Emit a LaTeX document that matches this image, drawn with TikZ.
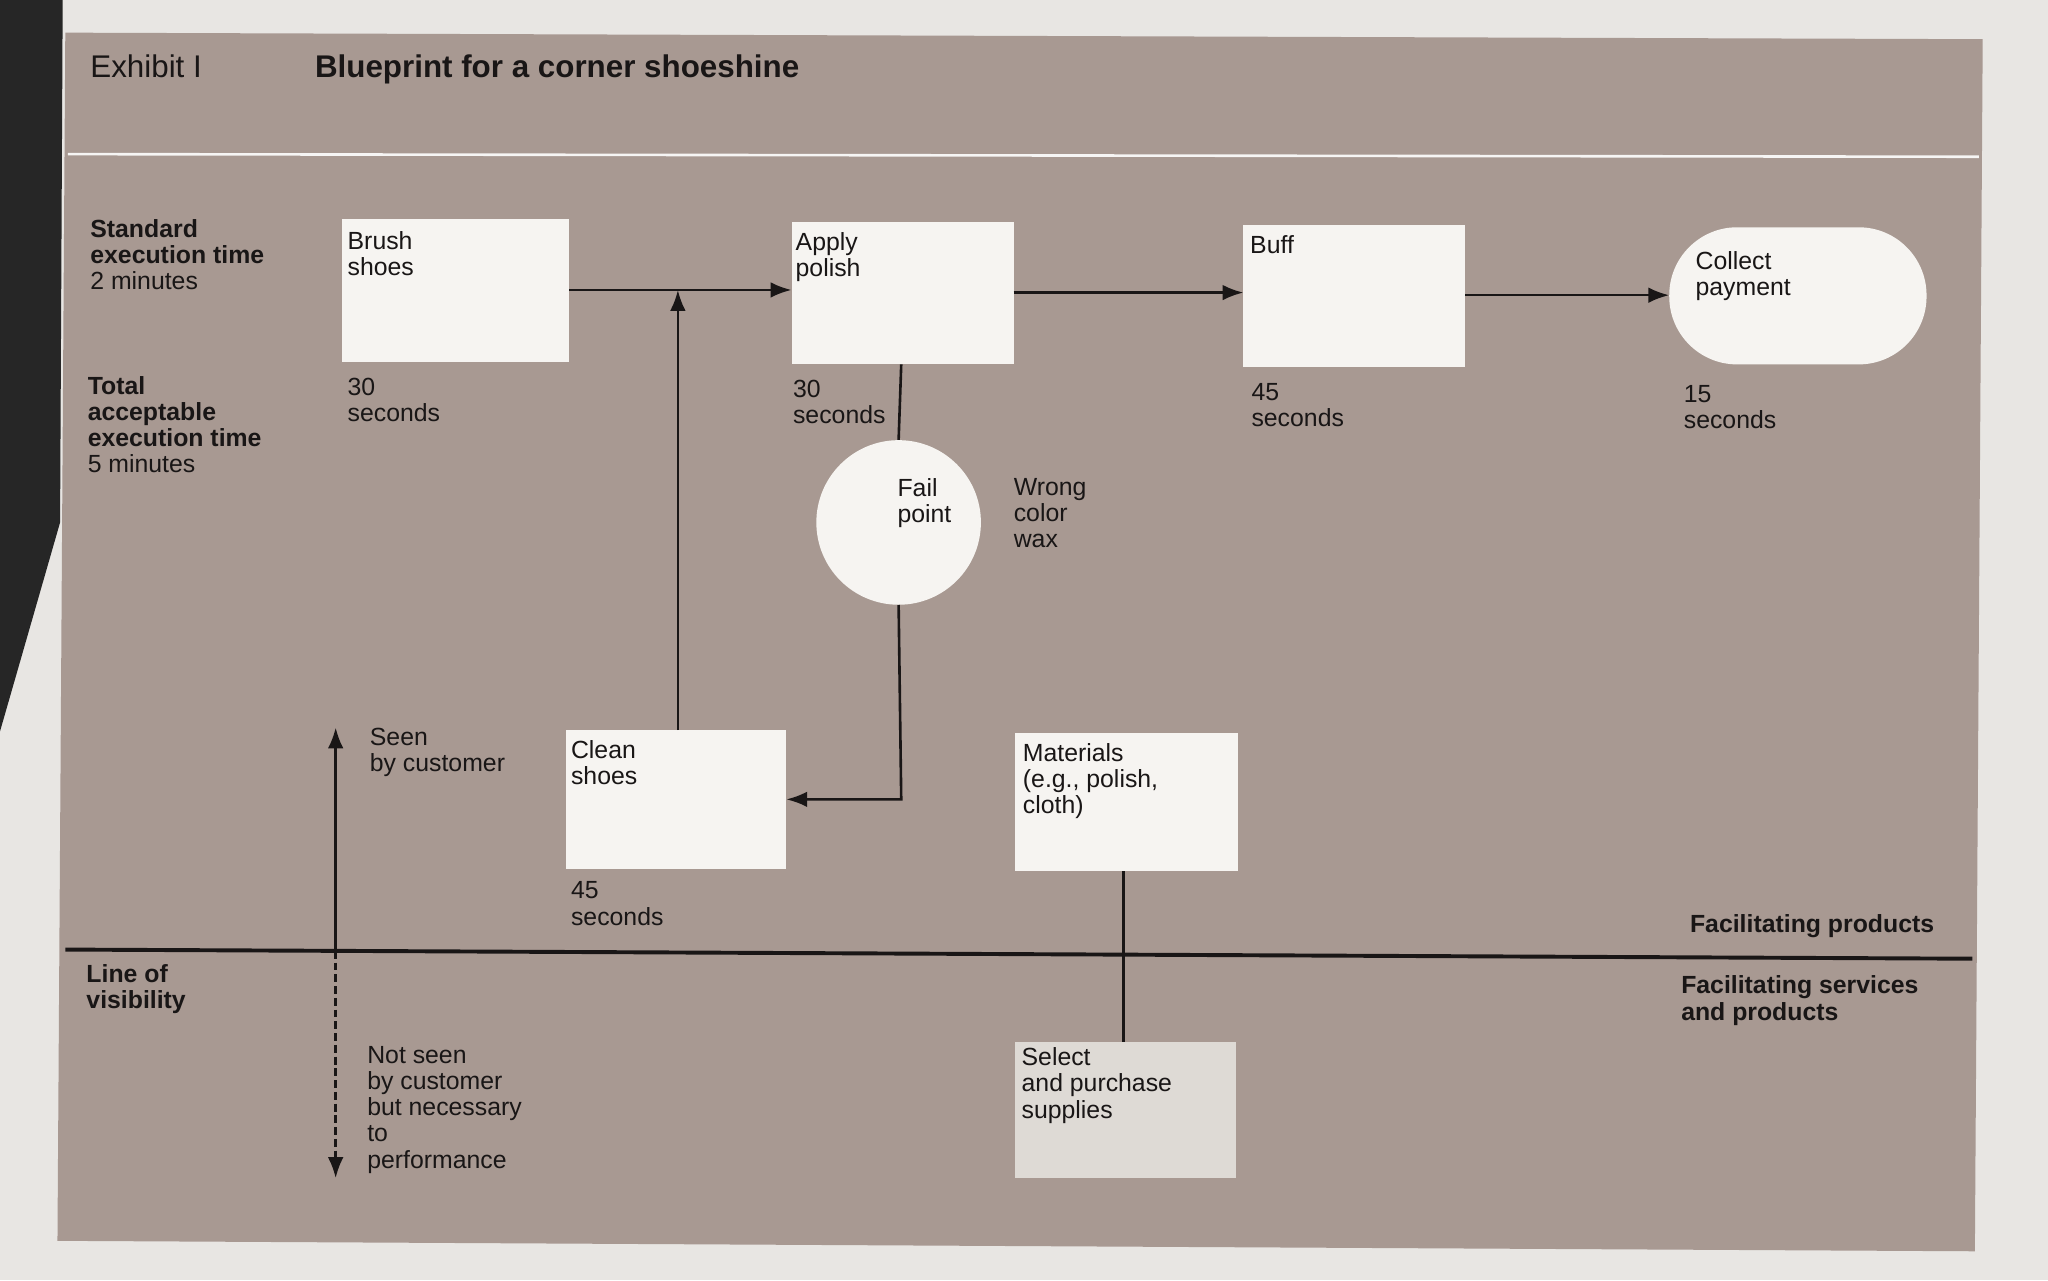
\documentclass[tikz,border=0pt]{standalone}
\usepackage{fontspec}
\setmainfont{Liberation Sans}
\usetikzlibrary{arrows.meta}
\definecolor{outer}{RGB}{232,230,227}
\definecolor{panel}{RGB}{168,153,146}
\definecolor{boxw}{RGB}{246,244,241}
\definecolor{boxg}{RGB}{222,218,213}
\definecolor{ink}{RGB}{25,22,22}
\tikzset{
 txt/.style={anchor=north west,inner sep=0pt,align=left,font=\fontsize{19}{20}\selectfont,text=ink},
 btxt/.style={txt,font=\fontsize{19}{20}\selectfont\bfseries},
 procbox/.style={fill=boxw,draw=none},
 flow/.style={draw=ink,line width=2pt,-{Latex[length=16pt,width=12pt]}},
 plain/.style={draw=ink,line width=2pt},
}
\begin{document}
\begin{tikzpicture}[x=1pt,y=-1pt]
\useasboundingbox (0,0) rectangle (1568,980);
\fill[outer] (0,0) rectangle (1568,980);
\fill[black!85] (0,0) -- (48,0) -- (46,400) -- (0,560) -- cycle;
\fill[panel] (50,25) -- (1518,30) -- (1512,958) -- (44,950) -- cycle;
\draw[white!90!panel,line width=2pt] (52,118) -- (1515,120);
% header
\node[txt,font=\fontsize{24}{26}\selectfont] (ex) at (69,42) {Exhibit I};
\node[btxt,font=\fontsize{24}{26}\selectfont\bfseries] (ttl) at (241,42) {Blueprint for a corner shoeshine};
% left labels
\node[txt] (std) at (69,168) {\textbf{Standard}\\\textbf{execution time}\\2 minutes};
\node[txt] (tot) at (67,288) {\textbf{Total}\\\textbf{acceptable}\\\textbf{execution time}\\5 minutes};
% boxes
\path[procbox] (262,168) rectangle (436,277);
\node[txt] (brush) at (266,177) {Brush\\shoes};
\coordinate (brushE) at (436,222);
\path[procbox] (606,170) rectangle (776,279);
\node[txt] (apply) at (609,178) {Apply\\polish};
\coordinate (applyW) at (606,222);
\coordinate (applyE) at (776,224);
\coordinate (applyS) at (690,279);
\path[procbox] (952,172) rectangle (1122,281);
\node[txt] (buff) at (957,180) {Buff};
\coordinate (buffW) at (952,224);
\coordinate (buffE) at (1122,226);
\path[procbox,rounded corners=52pt] (1278,174) rectangle (1475,279);
\node[txt] (coll) at (1298,192) {Collect\\payment};
\coordinate (collW) at (1278,226);
% times
\node[txt] (t1) at (266,289) {30\\seconds};
\node[txt] (t2) at (607,291) {30\\seconds};
\node[txt] (t3) at (958,293) {45\\seconds};
\node[txt] (t4) at (1289,295) {15\\seconds};
% fail point
\node[circle,fill=boxw,minimum size=126pt,inner sep=0pt] (fail) at (688,400) {};
\node[txt] (failt) at (687,366) {Fail\\point};
\node[txt] (wrong) at (776,366) {Wrong\\color\\wax};
% clean shoes
\path[procbox] (433,559) rectangle (602,665);
\node[txt] (clean) at (437,567) {Clean\\shoes};
\coordinate (cleanE) at (602,612);
\coordinate (cleanN) at (519,559);
\coordinate (join) at (519,222);
\node[txt] (t5) at (437,675) {45\\seconds};
% materials
\path[procbox] (777,561) rectangle (948,667);
\node[txt] (mat) at (783,569) {Materials\\(e.g., polish,\\cloth)};
\coordinate (matS) at (860,667);
\path[fill=boxg] (777,798) rectangle (946,902);
\node[txt] (sel) at (782,802) {Select\\and purchase\\supplies};
\coordinate (selN) at (860,798);
% connectors
\draw[flow] (brushE) -- (applyW);
\draw[flow] (applyE) -- (buffW);
\draw[flow] (buffE) -- (collW);
\draw[plain] (applyS) -- (fail.north);
\draw[flow] (fail.south) -- (690,612) -- (cleanE);
\draw[flow] (cleanN) -- (join);
\draw[plain] (matS) -- (selN);
% line of visibility
\draw[ink,line width=3pt] (50,727) -- (1510,734);
\node[btxt] (lov) at (66,738) {Line of\\visibility};
\node[btxt,anchor=north east] (fp) at (1481,700) {Facilitating products};
\node[btxt] (fs) at (1287,747) {Facilitating services\\and products};
\coordinate (vis) at (257,728);
\coordinate (visU) at (257,557);
\coordinate (visD) at (257,902);
\draw[flow] (vis) -- (visU);
\draw[flow,dash pattern=on 6pt off 3pt] (vis) -- (visD);
\node[txt] (seen) at (283,557) {Seen\\by customer};
\node[txt] (nseen) at (281,801) {Not seen\\by customer\\but necessary\\to\\performance};
\end{tikzpicture}
\end{document}
